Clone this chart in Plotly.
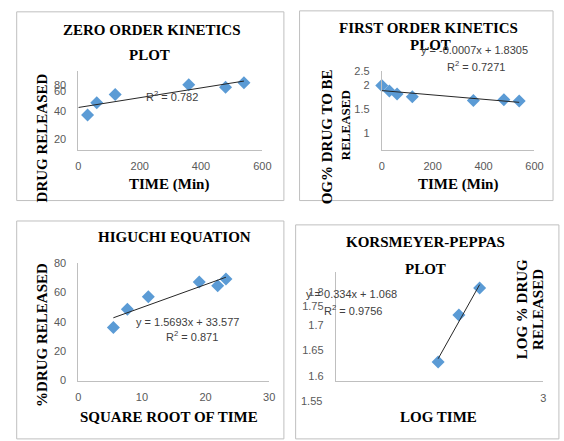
import numpy as np
import plotly.graph_objects as go

W, H = 564, 441

# ---------------- data ----------------
zero_time = [30, 60, 120, 360, 480, 540]
zero_released = [36, 48.5, 57, 67, 64.5, 69]

first_time = [0, 30, 60, 120, 360, 480, 540]
first_log_remaining = [2.0, 1.88, 1.82, 1.76, 1.68, 1.70, 1.67]

higuchi_sqrt_time = [5.5, 7.7, 11.0, 19.0, 21.9, 23.2]
higuchi_released = [36, 48.5, 57, 67, 64.5, 69]

kp_log_time = [1.48, 1.78, 2.08]
kp_log_released = [1.627, 1.719, 1.772]

# tick labels as printed in the picture
zero_y_ticktext = ["20", "40", "60", "80"]
zero_y_tickvals = [11, 40, 60, 67]
first_y_ticktext = ["1", "1.5", "2", "2.5"]
first_y_tickvals = [1.0, 1.5, 2.0, 2.3]
kp_y_ticktext = ["1.6", "1.65", "1.7", "1.75", "1.8"]
kp_y_tickvals = [1.6, 1.65, 1.7, 1.736, 1.764]

zero_eq = "R<sup>2</sup> = 0.782"
first_eq = ["y = -0.0007x + 1.8305", "R<sup>2</sup> = 0.7271"]
higuchi_eq = ["y = 1.5693x + 33.577", "R<sup>2</sup> = 0.871"]
kp_eq = ["y = 0.334x + 1.068", "R<sup>2</sup> = 0.9756"]

BLUE = "#5b9bd5"
AXC = "#bfbfbf"
TICKC = "#595959"
SERIF = "Liberation Serif"
SANS = "Liberation Sans"


def X(px):
    return px / W


def Y(py):
    return 1 - py / H


fig = go.Figure()


def add_panel(i, xs, ys, line_x):
    xa = "x" if i == 1 else f"x{i}"
    ya = "y" if i == 1 else f"y{i}"
    fig.add_trace(go.Scatter(x=xs, y=ys, mode="markers",
                             marker=dict(symbol="diamond", size=10, color=BLUE),
                             xaxis=xa, yaxis=ya, showlegend=False, cliponaxis=False))
    k, b = np.polyfit(xs, ys, 1)
    lx = np.array(line_x, dtype=float)
    fig.add_trace(go.Scatter(x=lx, y=k * lx + b, mode="lines",
                             line=dict(color="#262626", width=1),
                             xaxis=xa, yaxis=ya, showlegend=False, cliponaxis=False))


add_panel(1, zero_time, zero_released, [0, max(zero_time)])
add_panel(2, first_time, first_log_remaining, [min(first_time), max(first_time)])
add_panel(3, higuchi_sqrt_time, higuchi_released, [min(higuchi_sqrt_time), max(higuchi_sqrt_time)])
add_panel(4, kp_log_time, kp_log_released, [min(kp_log_time), max(kp_log_time)])

common = dict(showgrid=False, zeroline=False, showline=True, linecolor=AXC, linewidth=1,
              ticks="", tickfont=dict(family=SANS, size=11, color=TICKC))


def xax(px0, px1, rng, **kw):
    d = dict(common)
    d.update(domain=[X(px0), X(px1)], range=rng, ticklabelstandoff=6)
    d.update(kw)
    return d


def yax(py_bottom, py_top, rng, anchor, **kw):
    d = dict(common)
    d.update(domain=[Y(py_bottom), Y(py_top)], range=rng, anchor=anchor, ticklabelstandoff=9)
    d.update(kw)
    return d


fig.update_layout(
    width=W, height=H, margin=dict(l=0, r=0, t=0, b=0),
    paper_bgcolor="white", plot_bgcolor="white",
    xaxis=xax(77, 265, [0, 600], anchor="y", tickvals=[0, 200, 400, 600]),
    yaxis=yax(148, 67, [0, 81], "x", tickvals=zero_y_tickvals, ticktext=zero_y_ticktext),
    xaxis2=xax(387, 543, [0, 600], anchor="y2", tickvals=[0, 200, 400, 600]),
    yaxis2=yax(148, 67, [0.64, 2.30], "x2", tickvals=first_y_tickvals, ticktext=first_y_ticktext),
    xaxis3=xax(77, 272, [0, 30], anchor="y3", tickvals=[0, 10, 20, 30]),
    yaxis3=yax(385, 264, [0, 80], "x3", tickvals=[0, 20, 40, 60, 80]),
    xaxis4=xax(340, 552, [0, 3], anchor="y4", tickvals=[3]),
    yaxis4=yax(386, 273, [1.589, 1.804], "x4", tickvals=kp_y_tickvals, ticktext=kp_y_ticktext),
)

# panel borders
for (x0, y0, x1, y1) in [(14, 6, 287, 200), (303, 5, 562, 200), (14, 221, 287, 445), (299, 225, 568, 445)]:
    fig.add_shape(type="rect", xref="paper", yref="paper", x0=X(x0), x1=X(x1), y0=Y(y1), y1=Y(y0),
                  line=dict(color=AXC, width=1), fillcolor="rgba(0,0,0,0)", layer="below")

ann = []


def T(text, px, py, size=15, angle=0, family=SERIF, bold=True, color="black", xanchor="center"):
    t = f"<b>{text}</b>" if bold else text
    ann.append(dict(text=t, x=X(px), y=Y(py), xref="paper", yref="paper", showarrow=False,
                    xanchor=xanchor, yanchor="middle", textangle=angle,
                    font=dict(family=family, size=size, color=color)))


# panel 1
T("ZERO ORDER KINETICS", 152, 25)
T("PLOT", 150, 50)
T("TIME (Min)", 170, 183)
T("DRUG RELEASED", 40, 136, angle=-90)
T(zero_eq, 173, 93, size=11, family=SANS, bold=False, color="#404040")

# panel 2
T("FIRST ORDER KINETICS", 435, 23)
T("PLOT", 437, 40)
T("TIME (Min)", 465, 183)
T("OG% DRUG TO BE", 331, 134, angle=-90)
T("RELEASED", 350, 123, angle=-90, size=13)
T(first_eq[0], 482, 45, size=11, family=SANS, bold=False, color="#404040")
T(first_eq[1], 483, 62, size=11, family=SANS, bold=False, color="#404040")

# panel 3
T("HIGUCHI EQUATION", 175, 237)
T("SQUARE ROOT OF TIME", 170, 422)
T("%DRUG RELEASED", 40, 338, angle=-90)
T(higuchi_eq[0], 188, 325, size=11, family=SANS, bold=False, color="#404040")
T(higuchi_eq[1], 193, 339, size=11, family=SANS, bold=False, color="#404040")

# panel 4
T("KORSMEYER-PEPPAS", 432, 243)
T("PLOT", 432, 270)
T("LOG TIME", 445, 422)
T("LOG % DRUG", 530, 312, angle=-90)
T("RELEASED", 546, 312, angle=-90)
T(kp_eq[0], 356, 296, size=11, family=SANS, bold=False, color="#404040")
T(kp_eq[1], 358, 313, size=11, family=SANS, bold=False, color="#404040")
T("1.55", 328, 406, size=11, family=SANS, bold=False, color=TICKC, xanchor="right")

fig.update_layout(annotations=ann)
fig.write_html("out.html", config={"displayModeBar": False},
               post_script="document.body.style.margin='0';document.body.style.overflow='hidden';")
